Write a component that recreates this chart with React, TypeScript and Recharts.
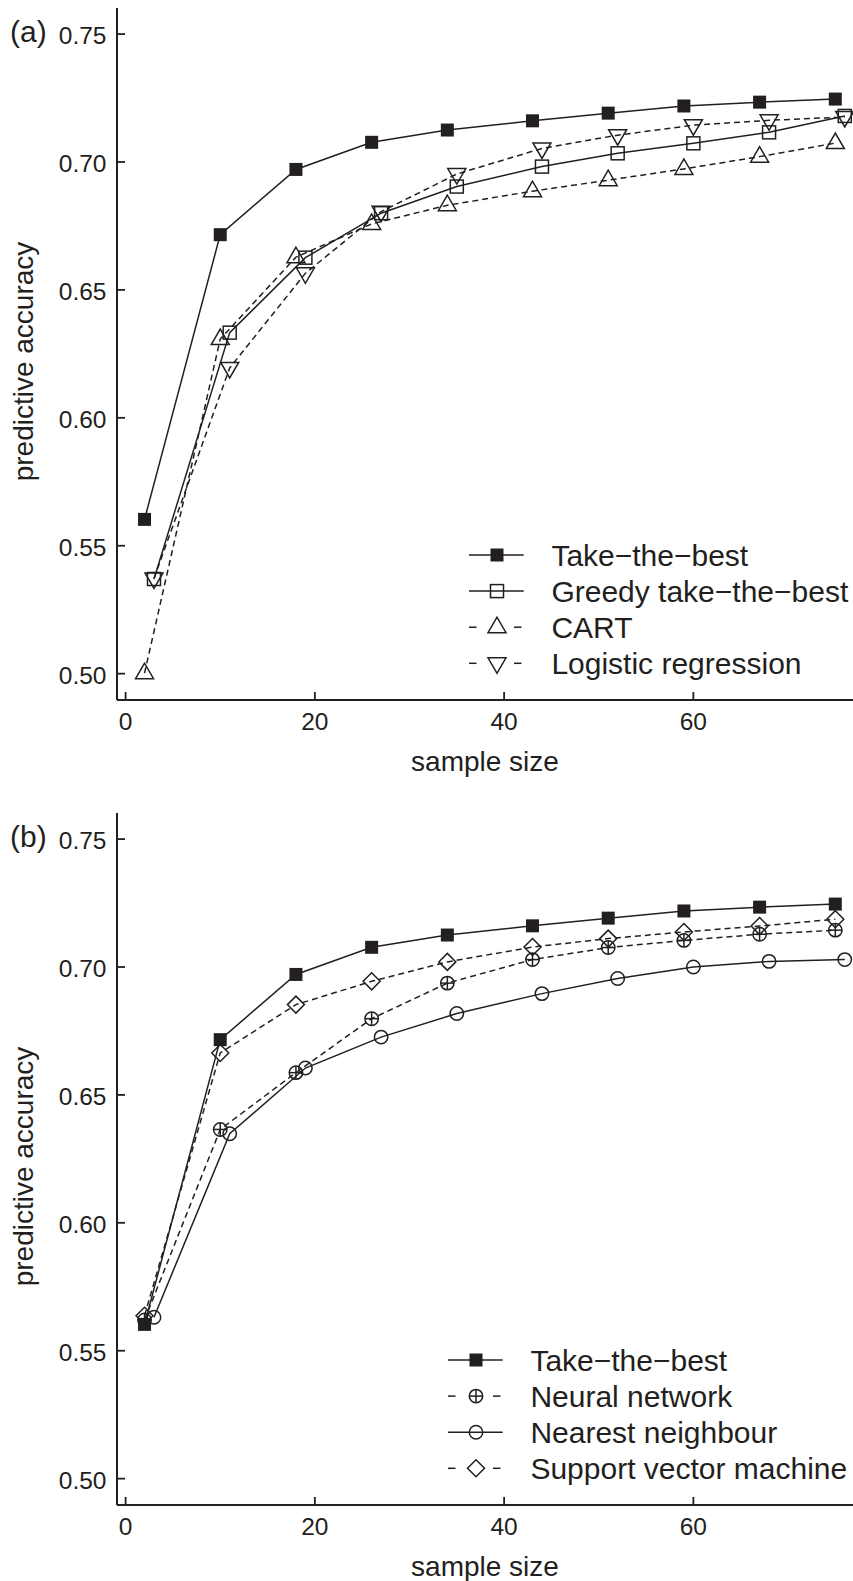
import React from 'react';
import { LineChart, Line, XAxis, YAxis, Legend } from 'recharts';

const INK = '#231f20';
const FONT = '"Liberation Sans", Arial, Helvetica, sans-serif';

// sample sizes (two interleaved grids, as in the figure)
const sizesA = [2, 10, 18, 26, 34, 43, 51, 59, 67, 75];
const sizesB = [3, 11, 19, 27, 35, 44, 52, 60, 68, 76];

// predictive accuracy per model
const takeTheBest = [0.5603, 0.6716, 0.6971, 0.7077, 0.7125, 0.7161, 0.7191, 0.7219, 0.7234, 0.7246];
const greedyTTB = [0.537, 0.6333, 0.6626, 0.68, 0.6904, 0.6982, 0.7034, 0.7073, 0.7116, 0.718];
const cart = [0.5002, 0.6308, 0.6628, 0.6758, 0.6831, 0.6886, 0.6929, 0.6973, 0.7021, 0.7074];
const logistic = [0.5372, 0.6195, 0.6565, 0.6806, 0.6953, 0.7053, 0.7105, 0.7144, 0.7163, 0.7176];
const neuralNet = [0.562, 0.6365, 0.6587, 0.6798, 0.6937, 0.7029, 0.7076, 0.7104, 0.7128, 0.7144];
const nearestNb = [0.5631, 0.6348, 0.6605, 0.6726, 0.6818, 0.6896, 0.6955, 0.7, 0.7022, 0.7029];
const svm = [0.5637, 0.6664, 0.6853, 0.6944, 0.702, 0.7078, 0.7111, 0.7137, 0.716, 0.7187];

const xTicks = [0, 20, 40, 60];
const yTicks = [0.5, 0.55, 0.6, 0.65, 0.7, 0.75];
const xDomain: [number, number] = [-0.91, 76.87];
const yDomain: [number, number] = [0.4897, 0.7602];

type MarkerKind = 'fsquare' | 'square' | 'tri' | 'dtri' | 'circle' | 'cplus' | 'diamond';

interface Series {
  name: string;
  xs: number[];
  ys: number[];
  marker: MarkerKind;
  dashed: boolean;
}

const panelA: Series[] = [
  { name: 'Take\u2212the\u2212best', xs: sizesA, ys: takeTheBest, marker: 'fsquare', dashed: false },
  { name: 'Greedy take\u2212the\u2212best', xs: sizesB, ys: greedyTTB, marker: 'square', dashed: false },
  { name: 'CART', xs: sizesA, ys: cart, marker: 'tri', dashed: true },
  { name: 'Logistic regression', xs: sizesB, ys: logistic, marker: 'dtri', dashed: true },
];

const panelB: Series[] = [
  { name: 'Take\u2212the\u2212best', xs: sizesA, ys: takeTheBest, marker: 'fsquare', dashed: false },
  { name: 'Neural network', xs: sizesA, ys: neuralNet, marker: 'cplus', dashed: true },
  { name: 'Nearest neighbour', xs: sizesB, ys: nearestNb, marker: 'circle', dashed: false },
  { name: 'Support vector machine', xs: sizesA, ys: svm, marker: 'diamond', dashed: true },
];

const toPoints = (xs: number[], ys: number[]) => xs.map((x, i) => ({ x, y: ys[i] }));

function Marker({ kind, cx, cy }: { kind: MarkerKind; cx: number; cy: number }) {
  const sw = 1.5;
  switch (kind) {
    case 'fsquare':
      return <rect x={cx - 6.5} y={cy - 6.5} width={13} height={13} fill={INK} />;
    case 'square':
      return <rect x={cx - 6.5} y={cy - 6.5} width={13} height={13} fill="none" stroke={INK} strokeWidth={sw} />;
    case 'tri':
      return (
        <polygon
          points={`${cx},${cy - 10} ${cx - 9},${cy + 5.5} ${cx + 9},${cy + 5.5}`}
          fill="none" stroke={INK} strokeWidth={sw}
        />
      );
    case 'dtri':
      return (
        <polygon
          points={`${cx - 9},${cy - 5.5} ${cx + 9},${cy - 5.5} ${cx},${cy + 10}`}
          fill="none" stroke={INK} strokeWidth={sw}
        />
      );
    case 'circle':
      return <circle cx={cx} cy={cy} r={6.7} fill="none" stroke={INK} strokeWidth={sw} />;
    case 'cplus':
      return (
        <g stroke={INK} strokeWidth={sw} fill="none">
          <circle cx={cx} cy={cy} r={6.7} />
          <line x1={cx - 6.7} x2={cx + 6.7} y1={cy} y2={cy} />
          <line x1={cx} x2={cx} y1={cy - 6.7} y2={cy + 6.7} />
        </g>
      );
    case 'diamond':
      return (
        <polygon
          points={`${cx},${cy - 8.5} ${cx + 8.5},${cy} ${cx},${cy + 8.5} ${cx - 8.5},${cy}`}
          fill="none" stroke={INK} strokeWidth={sw}
        />
      );
  }
  return null;
}

const YTick = (props: any) => {
  const { x, y, payload } = props;
  return (
    <g>
      <line x1={x} x2={x + 8} y1={y} y2={y} stroke={INK} strokeWidth={1.8} />
      <text x={x - 10.5} y={y + 10} textAnchor="end" fontSize={24.5} fontFamily={FONT} fill={INK}>
        {Number(payload.value).toFixed(2)}
      </text>
    </g>
  );
};

const XTick = (props: any) => {
  const { x, y, payload } = props;
  return (
    <g>
      <line x1={x} x2={x} y1={y} y2={y - 8} stroke={INK} strokeWidth={1.8} />
      <text x={x} y={y + 30} textAnchor="middle" fontSize={24.5} fontFamily={FONT} fill={INK}>
        {payload.value}
      </text>
    </g>
  );
};

function Panel({ series, letter, legendX, top }: { series: Series[]; letter: string; legendX: number; top: number }) {
  const renderLegend = () => (
    <svg width={853 - legendX + 10} height={160} style={{ display: 'block', overflow: 'visible' }}>
      {series.map((s, i) => {
        const cy = 25 + i * 36.1;
        return (
          <g key={s.name}>
            {s.dashed ? (
              <g stroke={INK} strokeWidth={1.5}>
                <line x1={10} x2={17.5} y1={cy} y2={cy} />
                <line x1={55} x2={62.5} y1={cy} y2={cy} />
              </g>
            ) : (
              <line x1={10} x2={64.7} y1={cy} y2={cy} stroke={INK} strokeWidth={1.5} />
            )}
            <Marker kind={s.marker} cx={38} cy={cy} />
            <text x={92.4} y={cy + 10.5} fontSize={30} fontFamily={FONT} fill={INK}>
              {s.name}
            </text>
          </g>
        );
      })}
    </svg>
  );

  return (
    <div style={{ position: 'absolute', left: 0, top }}>
      <LineChart width={853} height={780} margin={{ top: 8, right: 0, bottom: 0, left: 0 }}>
        <XAxis
          dataKey="x"
          type="number"
          domain={xDomain}
          ticks={xTicks}
          allowDataOverflow
          height={80}
          tickSize={0}
          tickMargin={0}
          tick={<XTick />}
          axisLine={{ stroke: INK, strokeWidth: 2 }}
          tickLine={false}
          label={(p: any) => {
            const vb = p.viewBox || { x: 117, y: 700, width: 736 };
            return (
              <text x={vb.x + vb.width / 2} y={vb.y + 71} textAnchor="middle" fontSize={28} fontFamily={FONT} fill={INK}>
                sample size
              </text>
            );
          }}
        />
        <XAxis
          xAxisId="top"
          orientation="top"
          type="number"
          domain={xDomain}
          allowDataOverflow
          height={0}
          tick={false}
          tickLine={false}
          axisLine={{ stroke: INK, strokeWidth: 2 }}
        />
        <YAxis
          type="number"
          domain={yDomain}
          ticks={yTicks}
          allowDataOverflow
          width={117}
          tickSize={0}
          tickMargin={0}
          tick={<YTick />}
          tickLine={false}
          axisLine={{ stroke: INK, strokeWidth: 2 }}
          label={(p: any) => {
            const vb = p.viewBox || { x: 0, y: 8, width: 117, height: 692 };
            const cy = vb.y + vb.height / 2 + 7.5;
            return (
              <g>
                <text
                  x={33}
                  y={cy}
                  transform={`rotate(-90, 33, ${cy})`}
                  textAnchor="middle"
                  fontSize={28}
                  fontFamily={FONT}
                  fill={INK}
                >
                  predictive accuracy
                </text>
                <text x={10} y={vb.y + 34} fontSize={30} fontFamily={FONT} fill={INK}>
                  {letter}
                </text>
              </g>
            );
          }}
        />
        {series.map((s) => (
          <Line
            key={s.name}
            data={toPoints(s.xs, s.ys)}
            dataKey="y"
            name={s.name}
            type="linear"
            stroke={INK}
            strokeWidth={1.5}
            strokeDasharray={s.dashed ? '6 4' : undefined}
            isAnimationActive={false}
            activeDot={false}
            dot={(p: any) => <Marker key={`${s.name}-${p.index}`} kind={s.marker} cx={p.cx} cy={p.cy} />}
          />
        ))}
        <Legend
          layout="vertical"
          align="center"
          verticalAlign="middle"
          wrapperStyle={{ position: 'absolute', left: legendX - 10, top: 530, width: 853 - legendX + 10, height: 160 }}
          content={renderLegend}
        />
      </LineChart>
    </div>
  );
}

export default function App() {
  return (
    <div
      style={{
        position: 'absolute',
        left: 0,
        top: 0,
        width: 853,
        height: 1581,
        overflow: 'hidden',
        background: '#fff',
        fontFamily: FONT,
      }}
    >
      <Panel series={panelA} letter="(a)" legendX={469.3} top={0} />
      <Panel series={panelB} letter="(b)" legendX={448.3} top={805} />
    </div>
  );
}
